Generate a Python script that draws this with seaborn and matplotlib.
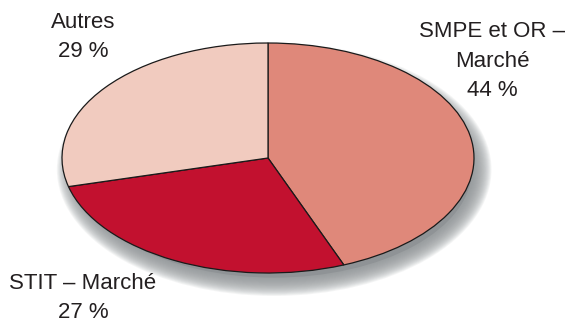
import matplotlib
matplotlib.use("Agg")
import matplotlib.pyplot as plt
from matplotlib.patches import Ellipse
import seaborn as sns

categories = ["SMPE et OR –\nMarché", "STIT – Marché", "Autres"]
values = [44, 27, 29]
pct_labels = ["44 %", "27 %", "29 %"]
colors = ["#DF887A", "#C2112F", "#F1CBBF"]

sns.set_theme(style="white")
plt.rcParams['font.family'] = ['Liberation Sans', 'DejaVu Sans']

fig = plt.figure(figsize=(5.66, 3.24), dpi=100)
ax = fig.add_axes([0, 0, 1, 1])

# soft drop shadow
sx, sy = 0.03, -0.10
n = 20
for i in range(n):
    t = i / (n - 1)
    w = 2 - 0.06 + t * 0.17
    h = 2 - 0.10 + t * 0.30
    ax.add_patch(Ellipse((sx, sy), w, h, facecolor="#8F9396", edgecolor="none",
                         alpha=0.09, zorder=0.1 + (n - i) * 0.01))
ax.add_patch(Ellipse((sx, sy), 1.92, 1.88, facecolor="#8F9396", edgecolor="none", zorder=0.5))

wedges, _ = ax.pie(values, colors=colors, startangle=90, counterclock=False,
                   wedgeprops=dict(edgecolor="#1a1a1a", linewidth=0.9), radius=1)
for w_ in wedges:
    w_.set_zorder(2)

ax.set_aspect('auto')
ax.set_xlim(-268 / 206, 298 / 206)
ax.set_ylim((158 - 324) / 115, 158 / 115)
ax.axis('off')

def px(x, y):
    return ((x - 268) / 206, (158 - y) / 115)

label_pos = [(492, 61), (83, 298), (83, 37)]
for cat, pl, (x, y) in zip(categories, pct_labels, label_pos):
    tx, ty = px(x, y)
    ax.text(tx, ty, cat + "\n" + pl, ha="center", va="center", fontsize=16,
            color="#231f20", linespacing=1.55, zorder=3)

fig.savefig("out.png", dpi=100, facecolor="white")
